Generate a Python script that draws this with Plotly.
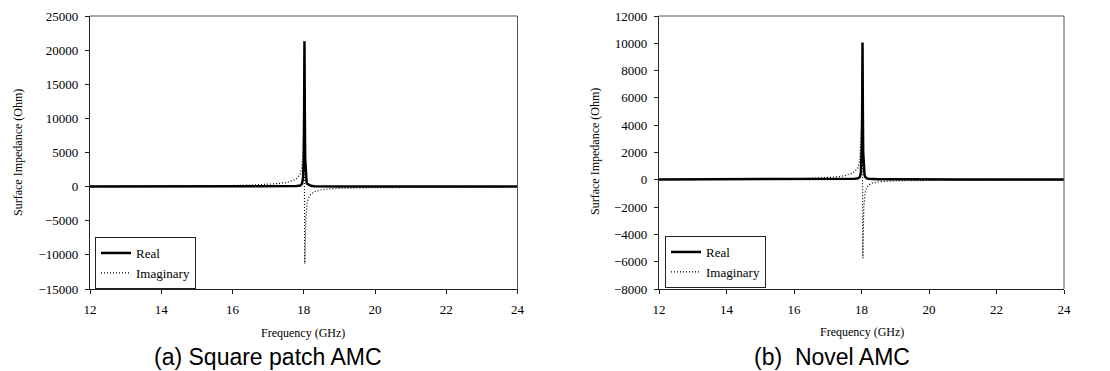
import plotly.graph_objects as go

# ---- Data (GHz, Ohm) ----
freq_a = [12, 13, 14, 15, 16, 16.5, 17, 17.3, 17.5, 17.7, 17.8, 17.9, 17.95, 17.98, 18.0,
          18.01, 18.02, 18.03, 18.04, 18.06, 18.08, 18.1, 18.15, 18.2, 18.3, 18.5, 18.8,
          19, 20, 21, 22, 23, 24]
real_a = [5, 5, 5, 6, 8, 10, 15, 20, 30, 50, 80, 150, 400, 1200, 4200,
          10600, 21300, 10600, 4200, 1200, 600, 400, 200, 120, 60, 30, 15,
          10, 6, 5, 5, 5, 5]
imag_a = [40, 50, 70, 100, 160, 220, 330, 450, 600, 900, 1200, 1800, 3000, 5000, 8500,
          10600, 0, -11300, -8500, -4500, -3000, -2200, -1500, -1100, -750, -450, -300,
          -250, -150, -110, -80, -60, -50]

freq_b = [12, 13, 14, 15, 16, 16.5, 17, 17.3, 17.5, 17.7, 17.8, 17.9, 17.95, 17.98, 18.0,
          18.01, 18.02, 18.03, 18.04, 18.05, 18.07, 18.09, 18.11, 18.15, 18.2, 18.3, 18.5,
          18.8, 19, 20, 21, 22, 23, 24]
real_b = [30, 30, 30, 30, 35, 40, 45, 50, 60, 70, 80, 110, 200, 500, 1300,
          2500, 5000, 10050, 5000, 2000, 700, 350, 220, 120, 80, 50, 40,
          35, 30, 30, 30, 30, 30, 30]
imag_b = [20, 25, 35, 50, 80, 110, 160, 220, 300, 450, 600, 900, 1500, 2500, 3800,
          4900, 5000, 0, -5750, -4000, -2000, -1200, -900, -600, -400, -250, -150,
          -100, -80, -50, -40, -30, -25, -20]

x_ticks = [12, 14, 16, 18, 20, 22, 24]
y_ticks_a = [-15000, -10000, -5000, 0, 5000, 10000, 15000, 20000, 25000]
y_ticks_b = [-8000, -6000, -4000, -2000, 0, 2000, 4000, 6000, 8000, 10000, 12000]

caption_a = "(a) Square patch AMC"
caption_b = "(b)  Novel AMC"
x_title = "Frequency (GHz)"
y_title = "Surface Impedance (Ohm)"

W, H = 1110, 371
SERIF = "Liberation Serif, Times New Roman, serif"
SANS = "Liberation Sans, Arial, sans-serif"

DOT = "1px,2px"

fig = go.Figure()
fig.add_trace(go.Scatter(x=freq_a, y=imag_a, name="Imaginary", mode="lines",
                         line=dict(color="black", width=1.2, dash=DOT),
                         xaxis="x", yaxis="y", legend="legend"))
fig.add_trace(go.Scatter(x=freq_a, y=real_a, name="Real", mode="lines",
                         line=dict(color="black", width=2.5),
                         xaxis="x", yaxis="y", legend="legend"))
fig.add_trace(go.Scatter(x=freq_b, y=imag_b, name="Imaginary", mode="lines",
                         line=dict(color="black", width=1.2, dash=DOT),
                         xaxis="x2", yaxis="y2", legend="legend2"))
fig.add_trace(go.Scatter(x=freq_b, y=real_b, name="Real", mode="lines",
                         line=dict(color="black", width=2.5),
                         xaxis="x2", yaxis="y2", legend="legend2"))

def px_x(p):
    return p / W

def px_y(p):
    return 1 - p / H

dom_xa = [px_x(90), px_x(517.5)]
dom_xb = [px_x(659), px_x(1064)]
dom_y = [px_y(289), px_y(16)]

axis_common = dict(showline=True, linecolor="#222", linewidth=1.3, mirror=False,
                   ticks="outside", ticklen=4, tickcolor="#222", tickwidth=1,
                   showgrid=False, zeroline=False, tickformat="d", automargin=False,
                   ticklabelstandoff=4,
                   tickfont=dict(family=SERIF, size=13, color="black"))

title_font = dict(family=SERIF, size=12, color="black")
caption_font = dict(family=SANS, size=23, color="black")

def ann(text, x, y, font, angle=0):
    return dict(text=text, x=px_x(x), y=px_y(y), xref="paper", yref="paper",
                xanchor="center", yanchor="middle", showarrow=False,
                textangle=angle, font=font)

fig.update_layout(
    width=W, height=H,
    margin=dict(l=0, r=0, t=0, b=0, autoexpand=False),
    paper_bgcolor="white", plot_bgcolor="white",
    font=dict(family=SERIF),
    showlegend=True,
    xaxis=dict(domain=dom_xa, range=[12, 24], tickvals=x_ticks, anchor="y", **axis_common),
    yaxis=dict(domain=dom_y, range=[-15000, 25000], tickvals=y_ticks_a, anchor="x", **axis_common),
    xaxis2=dict(domain=dom_xb, range=[12, 24], tickvals=x_ticks, anchor="y2", **axis_common),
    yaxis2=dict(domain=dom_y, range=[-8000, 12000], tickvals=y_ticks_b, anchor="x2", **axis_common),
    legend=dict(x=px_x(95), y=px_y(237), xanchor="left", yanchor="top",
                bordercolor="#222", borderwidth=1, bgcolor="white",
                font=dict(family=SERIF, size=13, color="black"),
                traceorder="reversed", tracegroupgap=0, itemwidth=30),
    legend2=dict(x=px_x(665), y=px_y(236), xanchor="left", yanchor="top",
                 bordercolor="#222", borderwidth=1, bgcolor="white",
                 font=dict(family=SERIF, size=13, color="black"),
                 traceorder="reversed", tracegroupgap=0, itemwidth=30),
    annotations=[
        ann(y_title, 18, 153, title_font, -90),
        ann(y_title, 595, 152, title_font, -90),
        ann(x_title, 303, 333, title_font),
        ann(x_title, 862, 332, title_font),
        ann(caption_a, 268, 357, caption_font),
        ann(caption_b, 832, 357, caption_font),
    ],
    shapes=[
        dict(type="line", xref="paper", yref="paper", x0=dom_xa[0], x1=dom_xa[1], y0=dom_y[1], y1=dom_y[1],
             line=dict(color="#555", width=1)),
        dict(type="line", xref="paper", yref="paper", x0=dom_xa[1], x1=dom_xa[1], y0=dom_y[0], y1=dom_y[1],
             line=dict(color="#555", width=1)),
        dict(type="line", xref="paper", yref="paper", x0=dom_xb[0], x1=dom_xb[1], y0=dom_y[1], y1=dom_y[1],
             line=dict(color="#555", width=1)),
        dict(type="line", xref="paper", yref="paper", x0=dom_xb[1], x1=dom_xb[1], y0=dom_y[0], y1=dom_y[1],
             line=dict(color="#555", width=1)),
    ],
)

fig.write_html("out.html", config={"displayModeBar": False},
               post_script="document.body.style.margin='0';document.body.style.overflow='hidden';")
